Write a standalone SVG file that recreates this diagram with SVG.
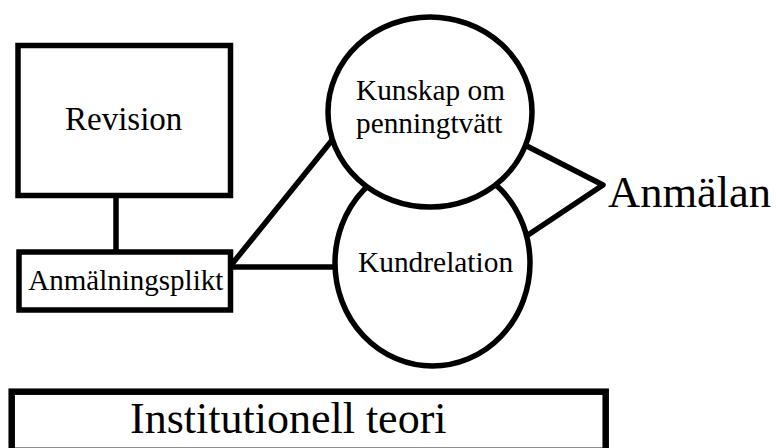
<svg xmlns="http://www.w3.org/2000/svg" width="776" height="448" viewBox="0 0 776 448">
<style>
.shape{fill:#fff;stroke:#000;stroke-width:5.5}
.conn{fill:none;stroke:#000;stroke-width:5.5;stroke-linejoin:round}
.t{font-family:"Liberation Serif","Times New Roman",serif;fill:#000}
</style>
<rect width="776" height="448" fill="#fff"/>
<g id="connectors">
<line class="conn" x1="116" y1="195" x2="116" y2="252"/>
<line class="conn" x1="232" y1="264" x2="336" y2="135.3"/>
<line class="conn" x1="230" y1="267" x2="340" y2="267"/>
<polyline class="conn" points="520,142.5 603,185 522,239"/>
</g>
<g id="revision">
<rect class="shape" x="18" y="45.5" width="212.5" height="150"/>
<text class="t" x="65" y="130" font-size="33">Revision</text>
</g>
<g id="anmalningsplikt">
<rect class="shape" x="19" y="252" width="211.5" height="58"/>
<text class="t" x="28.3" y="290" font-size="29">Anmälningsplikt</text>
</g>
<g id="kundrelation">
<ellipse class="shape" cx="432.5" cy="263" rx="97.5" ry="103"/>
<text class="t" x="358" y="272" font-size="29.4">Kundrelation</text>
</g>
<g id="kunskap">
<ellipse class="shape" cx="430" cy="112" rx="102" ry="95"/>
<text class="t" x="356" y="100" font-size="29.3">Kunskap om</text>
<text class="t" x="356" y="133" font-size="29.3">penningtvätt</text>
</g>
<g id="anmalan">
<text class="t" x="608" y="207" font-size="44.5">Anmälan</text>
</g>
<g id="institutionell">
<rect class="shape" x="11.7" y="391.7" width="594" height="59.1" style="stroke-width:6.5"/>
<text class="t" x="130" y="433" font-size="44">Institutionell teori</text>
</g>
</svg>
